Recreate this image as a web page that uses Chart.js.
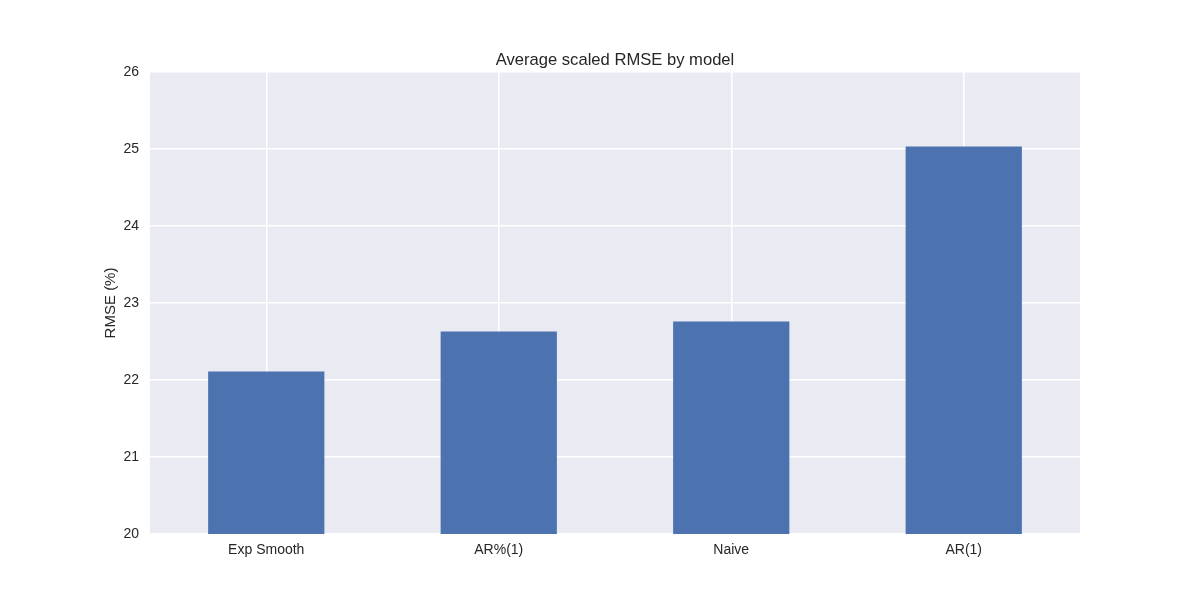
<!DOCTYPE html>
<html>
<head>
<meta charset="utf-8">
<script src="https://cdn.jsdelivr.net/npm/chart.js@4/dist/chart.umd.min.js"></script>
<style>
  html, body { margin: 0; padding: 0; background: #fff; }
  #wrap { width: 1200px; height: 600px; }
</style>
</head>
<body>
<div id="wrap"><canvas id="rmseChart" width="1200" height="600"></canvas></div>
<script>
// ── DATA ──
const models = ['Exp Smooth', 'AR%(1)', 'Naive', 'AR(1)'];
const rmse   = [22.11, 22.63, 22.76, 25.03];
const yTicks = [20, 21, 22, 23, 24, 25, 26];

const TEXT = '#262626';
const FONT = 'Arial, "Liberation Sans", "DejaVu Sans", sans-serif';

// ── PLOT BACKGROUND ──
const plotBg = {
  id: 'plotBg',
  beforeDraw(chart) {
    const { ctx, chartArea: a } = chart;
    ctx.save();
    ctx.fillStyle = '#EAEAF2';
    ctx.fillRect(a.left, a.top, a.right - a.left, a.bottom - a.top);
    ctx.restore();
  }
};

new Chart(document.getElementById('rmseChart'), {
  type: 'bar',
  data: {
    labels: models,
    datasets: [{
      data: rmse,
      backgroundColor: '#4C72B0',
      borderWidth: 0,
      barPercentage: 0.5,
      categoryPercentage: 1.0
    }]
  },
  options: {
    responsive: false,
    animation: false,
    layout: { padding: { left: 100, right: 120, top: 50, bottom: 0 } },
    plugins: {
      legend: { display: false },
      tooltip: { enabled: false },
      title: {
        display: true,
        fullSize: false,
        text: 'Average scaled RMSE by model',
        color: TEXT,
        font: { family: FONT, size: 16.6, weight: 'normal', lineHeight: 1.2 },
        padding: { top: 0, bottom: 2 }
      }
    },
    scales: {
      x: {
        grid: { color: '#ffffff', lineWidth: 1.5, offset: false, drawTicks: false },
        border: { display: false },
        ticks: { color: TEXT, font: { family: FONT, size: 14 }, padding: 8 },
        afterFit: s => { s.height = 66; }
      },
      y: {
        min: yTicks[0],
        max: yTicks[yTicks.length - 1],
        grid: { color: '#ffffff', lineWidth: 1.5, drawTicks: false },
        border: { display: false },
        afterBuildTicks: s => { s.ticks = yTicks.map(v => ({ value: v })); },
        ticks: { color: TEXT, font: { family: FONT, size: 14 }, padding: 11 },
        title: {
          display: true,
          text: 'RMSE (%)',
          color: TEXT,
          font: { family: FONT, size: 15, lineHeight: 1.2 },
          padding: { top: 2, bottom: 0 }
        },
        afterFit: s => { s.width = 50; }
      }
    }
  },
  plugins: [plotBg]
});
</script>
</body>
</html>
